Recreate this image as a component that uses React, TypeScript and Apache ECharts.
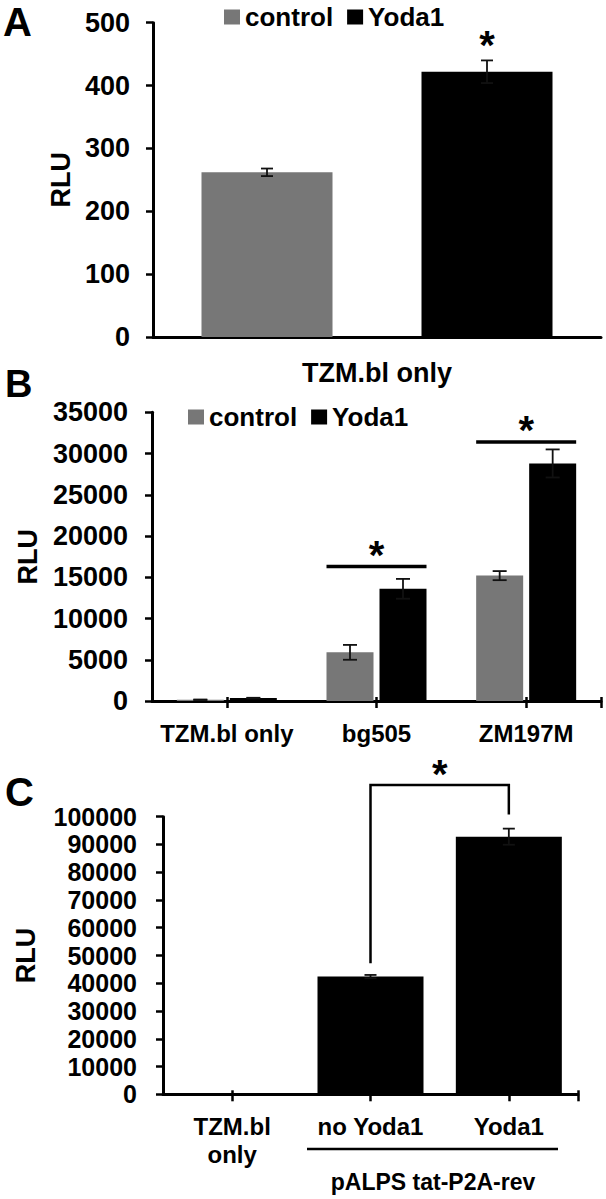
import React, { useEffect, useRef } from "react";
import * as echarts from "echarts";

// ---------- Data ----------
const legendNames = ["control", "Yoda1"];

// Panel A
const categoriesA = ["TZM.bl only"];
const controlA = [262];
const controlAErr = [6];
const yodaA = [422];
const yodaAErr = [18];
const starA = [[0, 464, 1]]; // [category, value of star, bar slot]
const ticksA = { min: 0, max: 500, interval: 100 };

// Panel B
const categoriesB = ["TZM.bl only", "bg505", "ZM197M"];
const controlB = [150, 5900, 15200];
const controlBErr = [30, 900, 550];
const yodaB = [350, 13600, 28800];
const yodaBErr = [40, 1200, 1700];
const sigB = [
  [1, 16300, 17700], // [category, line value, star value]
  [2, 31400, 32900],
];
const ticksB = { min: 0, max: 35000, interval: 5000 };

// Panel C
const categoriesC = ["TZM.bl\nonly", "no Yoda1", "Yoda1"];
const valuesC = [200, 42400, 92800];
const errC = [0, 600, 2900];
const bracketC = [[1, 2, 47200, 100800, 111400, 115400]]; // [from, to, left bottom, right bottom, top, star]
const ticksC = { min: 0, max: 100000, interval: 10000 };
const groupLabelC = "pALPS tat-P2A-rev";

// ---------- Styles ----------
const FONT = '"Liberation Sans", Arial, Helvetica, sans-serif';
const GRAY = "#777777";
const BLACK = "#000000";

const BAR = {
  A: { w: 131, gap: 89 },
  B: { w: 47, gap: 6 },
  C: { w: 106, gap: 0 },
};

function errorSeries(xIdx: number, yIdx: number, data: number[][], step: number, cap: number) {
  return {
    type: "custom",
    xAxisIndex: xIdx,
    yAxisIndex: yIdx,
    z: 5,
    clip: false,
    silent: true,
    data,
    renderItem: (params: any, api: any) => {
      const cat = api.value(0);
      const mean = api.value(1);
      const err = api.value(2);
      const slot = api.value(3);
      const hi = api.coord([cat, mean + err]);
      const lo = api.coord([cat, mean - err]);
      const x = hi[0] + slot * step;
      const style = { stroke: "#111", lineWidth: 1.8 };
      return {
        type: "group",
        children: [
          { type: "line", shape: { x1: x, y1: hi[1], x2: x, y2: lo[1] }, style },
          { type: "line", shape: { x1: x - cap, y1: hi[1], x2: x + cap, y2: hi[1] }, style },
          { type: "line", shape: { x1: x - cap, y1: lo[1], x2: x + cap, y2: lo[1] }, style },
        ],
      };
    },
  };
}

function starText(x: number, y: number) {
  return {
    type: "text",
    x,
    y,
    style: {
      text: "*",
      fontSize: 40,
      fontWeight: "bold",
      fontFamily: FONT,
      fill: BLACK,
      align: "center",
      verticalAlign: "middle",
    },
  };
}

const yCommon = (nameGap: number, fontSize: number, margin: number) => ({
  type: "value",
  axisLine: { show: true, lineStyle: { color: BLACK, width: 3 } },
  axisTick: { show: true, length: 7, lineStyle: { color: BLACK, width: 2.5 } },
  splitLine: { show: false },
  axisLabel: {
    color: BLACK,
    fontSize,
    fontWeight: "bold",
    fontFamily: FONT,
    margin,
    formatter: (v: number) => String(v),
  },
  name: "RLU",
  nameLocation: "middle",
  nameRotate: 90,
  nameGap,
  nameTextStyle: { color: BLACK, fontSize: 27, fontWeight: "bold", fontFamily: FONT },
});

const xCat = (gridIndex: number, data: string[], fontSize: number, margin: number, lineHeight?: number) => ({
  type: "category",
  gridIndex,
  data,
  axisLine: { show: true, lineStyle: { color: BLACK, width: 3 } },
  axisTick: { show: false },
  axisLabel: {
    color: BLACK,
    fontSize,
    fontWeight: "bold",
    fontFamily: FONT,
    margin,
    interval: 0,
    lineHeight: lineHeight || fontSize * 1.2,
  },
});

const xTicks = (gridIndex: number, n: number, inside: boolean) => {
  const vals: number[] = [];
  for (let i = 0; i < n; i++) vals.push(i + 0.5);
  vals.push(n);
  return {
    type: "value",
    gridIndex,
    min: 0,
    max: n,
    position: "bottom",
    axisLine: { show: false },
    axisLabel: { show: false },
    splitLine: { show: false },
    axisTick: { show: true, inside, length: inside ? 4 : 7, customValues: vals, lineStyle: { color: BLACK, width: 2.5 } },
  };
};

export default function App() {
  const ref = useRef<HTMLDivElement>(null);

  useEffect(() => {
    document.body.style.margin = "0";
    if (!ref.current) return;
    const chart = echarts.init(ref.current, undefined, { renderer: "svg" });

    const stepA = (BAR.A.w + BAR.A.gap) / 2;
    const stepB = (BAR.B.w + BAR.B.gap) / 2;

    const errA = [
      ...controlA.map((v, i) => [i, v, controlAErr[i], -1]),
      ...yodaA.map((v, i) => [i, v, yodaAErr[i], 1]),
    ];
    const errB = [
      ...controlB.map((v, i) => [i, v, controlBErr[i], -1]),
      ...yodaB.map((v, i) => [i, v, yodaBErr[i], 1]),
    ];
    const errCdata = valuesC.map((v, i) => [i, v, errC[i], 0]).filter((d) => d[2] > 0);

    const legendCommon = {
      data: legendNames,
      icon: "rect",
      itemWidth: 16,
      itemHeight: 15,
      itemGap: 14,
      padding: 0,
      selectedMode: false,
      textStyle: { color: BLACK, fontSize: 26, fontWeight: "bold", fontFamily: FONT },
    };

    const option: any = {
      animation: false,
      backgroundColor: "#ffffff",
      textStyle: { fontFamily: FONT },
      legend: [
        { ...legendCommon, left: 224, top: 4 },
        { ...legendCommon, left: 188, top: 404 },
      ],
      grid: [
        { left: 153, top: 22.7, width: 448, height: 314.3, outerBoundsMode: "none", containLabel: false },
        { left: 152, top: 412.3, width: 449, height: 288.7, outerBoundsMode: "none", containLabel: false },
        { left: 163, top: 816.7, width: 415, height: 277.6, outerBoundsMode: "none", containLabel: false },
      ],
      xAxis: [
        xCat(0, categoriesA, 27, 20),
        xCat(1, categoriesB, 24, 18),
        xTicks(1, categoriesB.length, true),
        xTicks(1, categoriesB.length, false),
        xCat(2, categoriesC, 24, 18, 28),
        xTicks(2, categoriesC.length, true),
        xTicks(2, categoriesC.length, false),
      ],
      yAxis: [
        { ...yCommon(76, 27, 23), gridIndex: 0, ...ticksA },
        { ...yCommon(111, 27, 24), gridIndex: 1, ...ticksB },
        { ...yCommon(124, 25, 26), gridIndex: 2, ...ticksC },
      ],
      series: [
        // Panel A
        {
          type: "bar",
          name: "control",
          xAxisIndex: 0,
          yAxisIndex: 0,
          data: controlA,
          barWidth: BAR.A.w,
          barGap: `${(BAR.A.gap / BAR.A.w) * 100}%`,
          itemStyle: { color: GRAY },
        },
        {
          type: "bar",
          name: "Yoda1",
          xAxisIndex: 0,
          yAxisIndex: 0,
          data: yodaA,
          barWidth: BAR.A.w,
          barGap: `${(BAR.A.gap / BAR.A.w) * 100}%`,
          itemStyle: { color: BLACK },
        },
        errorSeries(0, 0, errA, stepA, 6),
        {
          type: "custom",
          xAxisIndex: 0,
          yAxisIndex: 0,
          clip: false,
          silent: true,
          z: 6,
          data: starA,
          renderItem: (p: any, api: any) => {
            const c = api.coord([api.value(0), api.value(1)]);
            return starText(c[0] + api.value(2) * stepA, c[1]);
          },
        },
        // Panel B
        {
          type: "bar",
          name: "control",
          xAxisIndex: 1,
          yAxisIndex: 1,
          data: controlB,
          barWidth: BAR.B.w,
          barGap: `${(BAR.B.gap / BAR.B.w) * 100}%`,
          itemStyle: { color: GRAY },
        },
        {
          type: "bar",
          name: "Yoda1",
          xAxisIndex: 1,
          yAxisIndex: 1,
          data: yodaB,
          barWidth: BAR.B.w,
          barGap: `${(BAR.B.gap / BAR.B.w) * 100}%`,
          itemStyle: { color: BLACK },
        },
        errorSeries(1, 1, errB, stepB, 7),
        {
          type: "custom",
          xAxisIndex: 1,
          yAxisIndex: 1,
          clip: false,
          silent: true,
          z: 6,
          data: sigB,
          renderItem: (p: any, api: any) => {
            const l = api.coord([api.value(0), api.value(1)]);
            const s = api.coord([api.value(0), api.value(2)]);
            const half = BAR.B.w + BAR.B.gap / 2;
            return {
              type: "group",
              children: [
                {
                  type: "line",
                  shape: { x1: l[0] - half, y1: l[1], x2: l[0] + half, y2: l[1] },
                  style: { stroke: BLACK, lineWidth: 3.5 },
                },
                starText(s[0], s[1]),
              ],
            };
          },
        },
        // Panel C
        {
          type: "bar",
          name: "tat-P2A-rev",
          xAxisIndex: 4,
          yAxisIndex: 2,
          data: valuesC,
          barWidth: BAR.C.w,
          itemStyle: { color: BLACK },
        },
        errorSeries(4, 2, errCdata, 0, 6),
        {
          type: "custom",
          xAxisIndex: 4,
          yAxisIndex: 2,
          clip: false,
          silent: true,
          z: 6,
          data: bracketC,
          renderItem: (p: any, api: any) => {
            const a = api.coord([api.value(0), api.value(2)]);
            const b = api.coord([api.value(1), api.value(3)]);
            const top = api.coord([api.value(0), api.value(4)])[1];
            const star = api.coord([api.value(0), api.value(5)])[1];
            return {
              type: "group",
              children: [
                {
                  type: "polyline",
                  shape: { points: [[a[0], a[1]], [a[0], top], [b[0], top], [b[0], b[1]]] },
                  style: { stroke: BLACK, lineWidth: 2.5, fill: "none" },
                },
                starText((a[0] + b[0]) / 2, star),
              ],
            };
          },
        },
      ],
      graphic: [
        { type: "text", left: 3, top: 2, style: { text: "A", fontSize: 40, fontWeight: "bold", fontFamily: FONT, fill: BLACK } },
        { type: "text", left: 5, top: 365, style: { text: "B", fontSize: 38, fontWeight: "bold", fontFamily: FONT, fill: BLACK } },
        { type: "text", left: 5, top: 772, style: { text: "C", fontSize: 40, fontWeight: "bold", fontFamily: FONT, fill: BLACK } },
        { type: "line", shape: { x1: 307, y1: 1149, x2: 558, y2: 1149 }, style: { stroke: BLACK, lineWidth: 2.5 } },
        {
          type: "text",
          x: 433,
          y: 1182,
          style: {
            text: groupLabelC,
            fontSize: 23,
            fontWeight: "bold",
            fontFamily: FONT,
            fill: BLACK,
            align: "center",
            verticalAlign: "middle",
          },
        },
      ],
    };

    chart.setOption(option);
    return () => chart.dispose();
  }, []);

  return <div ref={ref} style={{ width: 606, height: 1199 }} />;
}
